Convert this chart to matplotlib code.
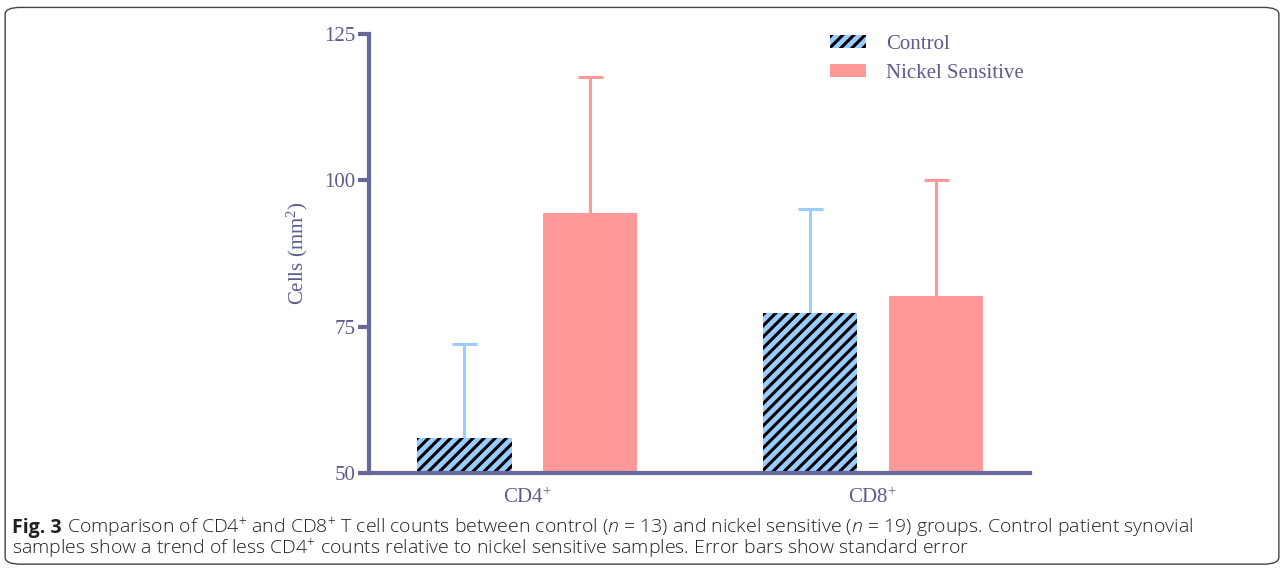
import numpy as np
import matplotlib.pyplot as plt
from matplotlib.patches import FancyBboxPatch

# data
groups = ["CD4$^{+}$", "CD8$^{+}$"]
control = [56.0, 77.3]
control_err = [16.0, 17.8]
nickel = [94.4, 80.2]
nickel_err = [23.3, 19.9]

axis_col = "#67679a"
text_col = "#5c5c8e"
blue = "#99ccff"
pink = "#ff9999"

plt.rcParams["hatch.linewidth"] = 2.2
plt.rcParams["font.family"] = ["Liberation Serif", "DejaVu Serif"]
plt.rcParams["mathtext.fontset"] = "custom"
plt.rcParams["mathtext.rm"] = "Liberation Serif"
plt.rcParams["mathtext.it"] = "Open Sans:italic:light"

fig = plt.figure(figsize=(12.84, 5.71), dpi=100)
ax = fig.add_axes([0.2874, 0.1716, 0.5148, 0.7688])

x = np.arange(len(groups))
w = 0.272
off = 0.181

ax.bar(x - off, control, w, color=blue, edgecolor="black", hatch="///",
       linewidth=0, label="Control", zorder=2)
ax.bar(x + off, nickel, w, color=pink, linewidth=0, label="Nickel Sensitive", zorder=2)

# only the upper half of the error bars is shown
for xs, vals, errs, c in [(x - off, control, control_err, blue),
                          (x + off, nickel, nickel_err, pink)]:
    eb = ax.errorbar(xs, vals, yerr=[[0] * len(errs), errs], fmt="none", ecolor=c,
                     elinewidth=2.2, capsize=9, capthick=2.2, zorder=1)
    eb[1][0].set_visible(False)

ax.set_ylim(50, 125)
ax.set_xlim(-0.457, 1.454)
ax.set_yticks([50, 75, 100, 125])
ax.set_xticks(x)
ax.set_xticklabels(groups)
ax.tick_params(axis="y", colors=axis_col, labelcolor=text_col, length=8, width=3,
               labelsize=15, pad=2)
ax.tick_params(axis="x", length=0, labelcolor=text_col, labelsize=15, pad=10)
for s in ["top", "right"]:
    ax.spines[s].set_visible(False)
for s in ["left", "bottom"]:
    ax.spines[s].set_color(axis_col)
    ax.spines[s].set_linewidth(3)
ax.set_ylabel("Cells (mm$^{2}$)", color=text_col, fontsize=15, labelpad=10)

leg = ax.legend(loc="upper right", bbox_to_anchor=(1.019, 1.04), frameon=False,
                fontsize=15, handlelength=1.75, handleheight=0.6, handletextpad=0.95,
                labelspacing=0.45)
for t in leg.get_texts():
    t.set_color(text_col)

# rounded frame round the whole figure
box = FancyBboxPatch((0.004, 0.012), 0.992, 0.975, boxstyle="round,pad=0,rounding_size=0.012",
                     transform=fig.transFigure, fill=False, edgecolor="#444444",
                     linewidth=1, figure=fig)
fig.patches.append(box)

# caption
cap_font = ["Open Sans", "DejaVu Sans"]
cap_col = "#231f20"
cap_size = 14
y1 = 1 - 533 / 571
y2 = 1 - 554 / 571
t0 = fig.text(0.0095, y1, "Fig. 3", fontsize=cap_size, family=cap_font, weight="bold",
              va="baseline", color=cap_col)
r = fig.canvas.get_renderer()
bb = t0.get_window_extent(r)
fig.text((bb.x1 + 5) / fig.bbox.width, y1,
         "Comparison of CD4$^{+}$ and CD8$^{+}$ T cell counts between control ($n$ = 13) and nickel sensitive ($n$ = 19) groups. Control patient synovial",
         fontsize=cap_size, family=cap_font, weight="light", va="baseline", color=cap_col)
fig.text(0.0095, y2,
         "samples show a trend of less CD4$^{+}$ counts relative to nickel sensitive samples. Error bars show standard error",
         fontsize=cap_size, family=cap_font, weight="light", va="baseline", color=cap_col)

fig.savefig("out.png", dpi=100)
